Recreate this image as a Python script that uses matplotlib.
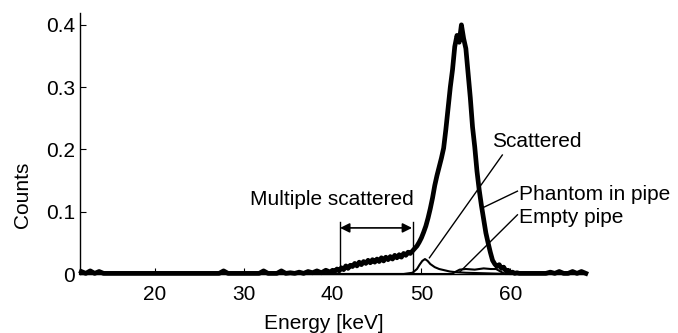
import numpy as np
import matplotlib
matplotlib.use("Agg")
import matplotlib.pyplot as plt

plt.rcParams['font.family'] = ['Liberation Sans', 'DejaVu Sans']

# main spectrum (phantom in pipe)
counts_low = [0.004, 0.001, 0.005, 0.001, 0.004, 0.001, 0.001, 0.001, 0.001, 0.001,
              0.001, 0.001, 0.001, 0.001, 0.001, 0.001, 0.001, 0.001, 0.001, 0.001,
              0.001, 0.001, 0.001, 0.001, 0.001, 0.001, 0.001, 0.001, 0.001, 0.001,
              0.001, 0.001, 0.005, 0.001, 0.001, 0.001, 0.001, 0.001, 0.001, 0.001,
              0.001, 0.005, 0.001, 0.001, 0.001, 0.005, 0.001, 0.002, 0.001, 0.003,
              0.001, 0.004, 0.002, 0.005, 0.002, 0.006, 0.003]
counts_mid = [0.006, 0.004, 0.008, 0.005, 0.010, 0.007, 0.013, 0.009, 0.014, 0.012,
              0.017, 0.013, 0.019, 0.015, 0.020, 0.017, 0.022, 0.018, 0.023, 0.019,
              0.024, 0.020, 0.026, 0.021, 0.027, 0.023, 0.028, 0.024, 0.030, 0.026,
              0.031, 0.027, 0.033, 0.030, 0.035, 0.033, 0.037, 0.041, 0.045, 0.051,
              0.058, 0.067, 0.077, 0.090, 0.105, 0.122, 0.142, 0.158, 0.172, 0.186,
              0.202, 0.232, 0.266, 0.300, 0.328, 0.365, 0.383, 0.372, 0.400, 0.378,
              0.362, 0.322, 0.283, 0.236, 0.204, 0.165, 0.135, 0.110, 0.088, 0.066,
              0.050, 0.035, 0.022, 0.016, 0.012, 0.015, 0.009, 0.011, 0.005, 0.006,
              0.002, 0.003, 0.001, 0.002, 0.001, 0.001, 0.001, 0.001, 0.001]
counts_high = [0.001, 0.001, 0.001, 0.001, 0.003, 0.001, 0.004, 0.001, 0.001, 0.004,
               0.001, 0.004, 0.001]

# scattered component (thin line)
scat_energy = [11.6, 48.0, 49.0, 49.5, 49.8, 50.1, 50.4, 50.7, 51.0, 51.5, 52.0,
               52.6, 53.2, 53.8, 55.0, 60.0, 68.4]
scat_counts = [0.000, 0.000, 0.002, 0.008, 0.015, 0.021, 0.024, 0.021, 0.016, 0.011,
               0.008, 0.006, 0.004, 0.003, 0.002, 0.000, 0.000]

# empty pipe (thin line)
pipe_energy = [11.6, 53.4, 53.9, 54.3, 55.0, 56.0, 57.0, 57.8, 58.4, 58.9, 59.4, 68.4]
pipe_counts = [0.000, 0.000, 0.004, 0.007, 0.008, 0.007, 0.009, 0.008, 0.008, 0.004,
               0.000, 0.000]

energy_low = 11.75 + 0.5 * np.arange(len(counts_low))
energy_mid = 40.0 + 0.25 * np.arange(len(counts_mid))
energy_high = 62.5 + 0.5 * np.arange(len(counts_high))
energy = np.concatenate([energy_low, energy_mid, energy_high])
counts = np.concatenate([counts_low, counts_mid, counts_high])

fig = plt.figure(figsize=(6.78, 3.33), dpi=100)
ax = fig.add_axes([80 / 678, 59 / 333, 505 / 678, 261 / 333])

ax.plot(scat_energy, scat_counts, color='k', lw=1.5, clip_on=False)
ax.plot(pipe_energy, pipe_counts, color='k', lw=1.5, clip_on=False)
ax.plot(energy, counts, color='k', lw=3.4, clip_on=False)

ax.set_xlim(11.6, 68.4)
ax.set_ylim(0, 0.419)
ax.set_xticks([20, 30, 40, 50, 60])
ax.set_yticks([0, 0.1, 0.2, 0.3, 0.4])
ax.set_yticklabels(['0', '0.1', '0.2', '0.3', '0.4'])
ax.spines['top'].set_visible(False)
ax.spines['right'].set_visible(False)
ax.spines['left'].set_linewidth(1.0)
ax.spines['bottom'].set_linewidth(1.0)
ax.tick_params(direction='in', length=4, width=0.8, labelsize=15, colors='k')
ax.tick_params(axis='x', pad=8)
ax.tick_params(axis='y', pad=3.5)

ax.set_xlabel('Energy [keV]', fontsize=15)
ax.xaxis.set_label_coords(0.482, -0.153)
ax.set_ylabel('Counts', fontsize=15)
ax.yaxis.set_label_coords(-0.095, 0.303)

# multiple scattered marker
ax.plot([40.8, 40.8], [0.006, 0.084], color='k', lw=1.0)
ax.plot([49.0, 49.0], [0.004, 0.084], color='k', lw=1.0)
ax.annotate('', xy=(40.85, 0.074), xytext=(48.95, 0.074),
            arrowprops=dict(arrowstyle='<|-|>', color='k', lw=1.2,
                            mutation_scale=14, shrinkA=0, shrinkB=0))
ax.text(39.9, 0.119, 'Multiple scattered', fontsize=15, ha='center', va='center')

# labels with leader lines
ax.text(58.0, 0.212, 'Scattered', fontsize=15, ha='left', va='center')
ax.plot([59.1, 50.9], [0.191, 0.026], color='k', lw=1.0)
ax.text(61.0, 0.127, 'Phantom in pipe', fontsize=15, ha='left', va='center')
ax.plot([60.8, 56.85], [0.133, 0.106], color='k', lw=1.0)
ax.text(61.0, 0.090, 'Empty pipe', fontsize=15, ha='left', va='center')
ax.plot([60.8, 54.3], [0.095, 0.003], color='k', lw=1.0)

fig.savefig('out.png', dpi=100)
